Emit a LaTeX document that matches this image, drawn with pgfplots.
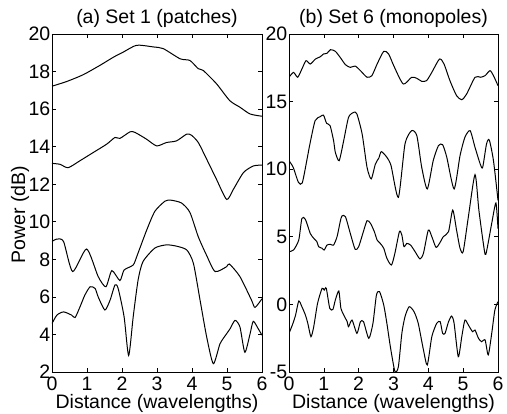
\documentclass[border=0pt]{standalone}
\usepackage{pgfplots}
\pgfplotsset{compat=1.18}
\usepackage{fontspec}
\setmainfont{Liberation Sans}
\newcommand{\ff}{\fontsize{19.5}{23}\selectfont}
\pgfplotsset{
  myline/.style={black, mark=none, line width=1pt, smooth, tension=0.4},
  mystyle/.style={
    scale only axis,
    height=338pt,
    xmin=0, xmax=6,
    xtick={0,1,2,3,4,5,6},
    tick align=inside,
    major tick length=4pt,
    minor tick num=0,
    axis line style={line width=0.9pt},
    every tick/.style={line width=0.6pt, black},
    tick label style={font=\ff},
    /pgf/number format/assume math mode=true,
    yticklabel style={inner xsep=1.5pt, inner ysep=0pt},
    xticklabel style={inner ysep=4.5pt, inner xsep=0pt},
    title style={font=\ff, yshift=-3pt},
    label style={font=\ff},
    xlabel style={at={(axis description cs:0.5,0)}, anchor=base, yshift=-37pt},
    xlabel={Distance (wavelengths)},
  }
}
\begin{document}
\begin{tikzpicture}[x=1pt,y=1pt]
\path[use as bounding box] (0,0) rectangle (507,414);
\begin{axis}[mystyle, at={(52pt,42pt)}, anchor=south west, width=210pt,
  ymin=2, ymax=20, ytick={2,4,...,20},
  title={(a) Set 1 (patches)},
  ylabel={Power (dB)},
  ylabel style={at={(axis description cs:0,0.465)}, anchor=base, yshift=27pt},
]
\addplot[myline] coordinates {(0,17.22)(0.42,17.47)(0.89,17.83)(1.37,18.33)(1.76,18.77)(2.04,19.04)(2.42,19.4)(2.9,19.31)(3.18,19.22)(3.66,18.68)(3.94,18.59)(4.18,18.15)(4.32,18.06)(4.7,17.35)(5.08,16.45)(5.37,16.1)(5.66,15.74)(6,15.62)};
\addplot[myline] coordinates {(0,13.11)(0.23,13.06)(0.46,12.88)(0.79,13.24)(1.18,13.69)(1.56,14.13)(1.8,14.49)(1.94,14.44)(2.23,14.79)(2.37,14.76)(2.7,14.4)(2.99,14.04)(3.27,14.22)(3.56,14.31)(3.85,14.67)(3.99,14.6)(4.18,14.22)(4.42,13.33)(4.7,12.26)(4.99,11.19)(5.18,11.72)(5.47,12.62)(5.75,12.97)(6,13.02)};
\addplot[myline] coordinates {(0,8.95)(0.14,9.08)(0.33,8.95)(0.59,7.35)(0.99,8.55)(1.32,7.08)(1.54,6.54)(1.71,7.4)(1.94,6.87)(2.06,7.43)(2.32,7.7)(2.44,8.24)(2.71,9.58)(2.94,10.56)(3.23,11.1)(3.4,11.15)(3.7,11.0)(3.94,10.5)(4.18,9.2)(4.42,8.2)(4.66,7.35)(4.99,7.61)(5.07,7.75)(5.37,7.08)(5.7,5.83)(5.8,5.44)(6,5.9)};
\addplot[myline] coordinates {(0,4.58)(0.14,5.03)(0.33,5.2)(0.56,5.03)(0.66,4.9)(0.8,5.47)(0.94,6.1)(1.09,6.54)(1.23,6.45)(1.32,6.0)(1.51,5.3)(1.66,5.83)(1.8,6.64)(1.89,6.45)(2.06,4.94)(2.19,2.88)(2.32,4.94)(2.46,6.9)(2.6,7.88)(2.94,8.6)(3.27,8.77)(3.56,8.7)(3.85,8.5)(4.04,7.79)(4.23,5.83)(4.42,3.86)(4.61,2.44)(4.8,3.5)(4.99,4.04)(5.09,4.31)(5.23,4.75)(5.37,4.4)(5.51,3.05)(5.66,4.04)(5.75,4.7)(5.89,4.31)(6,3.96)};
\end{axis}
\begin{axis}[mystyle, at={(289pt,42pt)}, anchor=south west, width=209pt,
  ymin=-5, ymax=20, ytick={-5,0,...,20},
  title={(b) Set 6 (monopoles)},
]
\addplot[myline] coordinates {(0,16.8)(0.13,17.16)(0.25,16.8)(0.37,17.41)(0.49,18.03)(0.61,17.78)(0.76,18.15)(0.9,18.32)(0.99,18.52)(1.09,18.57)(1.19,18.84)(1.33,18.72)(1.47,18.27)(1.62,17.73)(1.76,17.53)(1.9,17.63)(2.05,17.29)(2.24,16.8)(2.38,16.92)(2.53,17.78)(2.72,18.72)(2.86,18.52)(3.02,17.58)(3.28,16.3)(3.52,16.8)(3.67,16.72)(3.81,16.5)(3.95,16.55)(4.1,17.16)(4.32,18.15)(4.45,17.78)(4.62,16.55)(4.81,15.44)(4.96,15.14)(5.1,15.56)(5.34,16.8)(5.5,16.8)(5.63,16.92)(5.77,17.29)(5.87,16.92)(6,16.18)};
\addplot[myline] coordinates {(0,10.63)(0.12,10.14)(0.27,9.03)(0.38,8.98)(0.51,10.63)(0.6,11.86)(0.75,13.59)(0.9,13.89)(0.99,14.0)(1.08,13.39)(1.18,13.22)(1.28,12.11)(1.33,11.25)(1.44,10.63)(1.57,12.11)(1.71,13.84)(1.86,14.21)(1.95,14.08)(2.1,12.6)(2.24,10.14)(2.36,9.28)(2.48,10.38)(2.58,10.83)(2.65,11.3)(2.81,10.88)(2.93,10.26)(3.14,7.92)(3.33,11.86)(3.52,12.85)(3.67,12.48)(3.81,10.14)(3.97,8.54)(4.14,10.63)(4.29,11.74)(4.41,11.81)(4.53,10.88)(4.74,8.54)(4.91,11.0)(5.05,12.36)(5.2,12.85)(5.34,11.62)(5.49,10.38)(5.56,10.14)(5.67,11.86)(5.75,12.16)(5.87,10.63)(6,7.7)};
\addplot[myline] coordinates {(0,3.9)(0.13,4.02)(0.28,4.76)(0.37,6.36)(0.47,6.29)(0.61,5.25)(0.71,4.89)(0.8,4.64)(0.85,4.27)(0.95,4.15)(1.01,4.02)(1.09,4.39)(1.19,4.44)(1.28,4.39)(1.38,5.01)(1.47,6.12)(1.52,6.54)(1.62,6.49)(1.76,5.25)(1.9,4.07)(2.0,4.27)(2.12,5.25)(2.24,6.19)(2.34,5.99)(2.45,5.38)(2.53,4.76)(2.62,4.51)(2.72,4.15)(2.81,3.41)(2.94,2.91)(3.04,3.78)(3.17,5.38)(3.24,5.13)(3.3,4.27)(3.38,4.51)(3.49,4.39)(3.62,3.9)(3.76,3.36)(3.86,3.78)(4.0,5.5)(4.1,5.01)(4.22,4.22)(4.32,4.51)(4.43,5.01)(4.58,5.38)(4.7,6.98)(4.81,5.5)(4.91,4.15)(5.0,3.9)(5.15,6.49)(5.34,9.6)(5.45,7.0)(5.58,4.5)(5.65,3.7)(5.82,6.0)(5.94,7.5)(6,5.6)};
\addplot[myline] coordinates {(0,-2.14)(0.1,-1.5)(0.19,-0.78)(0.28,0.25)(0.37,-0.17)(0.47,-0.78)(0.54,-1.4)(0.63,-2.39)(0.71,-1.65)(0.82,0.08)(0.95,1.19)(1.01,1.06)(1.07,1.19)(1.17,-0.29)(1.26,-0.37)(1.33,0.32)(1.43,0.99)(1.49,-0.29)(1.57,-0.78)(1.67,-1.28)(1.71,-1.65)(1.81,-1.16)(1.95,-2.14)(2.05,-1.28)(2.14,-1.28)(2.29,-2.51)(2.41,-1.4)(2.51,0.69)(2.6,0.94)(2.72,-0.05)(2.81,-1.4)(2.91,-3.13)(3.04,-4.95)(3.14,-4.61)(3.24,-2.14)(3.33,-0.91)(3.45,-0.17)(3.59,-0.54)(3.71,-1.4)(3.86,-3.37)(3.97,-4.48)(4.1,-2.39)(4.24,-1.4)(4.34,-1.28)(4.41,-2.14)(4.48,-2.14)(4.58,-1.28)(4.67,-0.86)(4.74,-1.4)(4.86,-3.87)(4.96,-2.39)(5.05,-1.16)(5.15,-1.53)(5.27,-2.02)(5.34,-1.9)(5.44,-2.51)(5.53,-2.76)(5.63,-2.63)(5.72,-3.74)(5.82,-2.14)(5.91,-0.42)(6,0.2)};
\end{axis}
\end{tikzpicture}
\end{document}
